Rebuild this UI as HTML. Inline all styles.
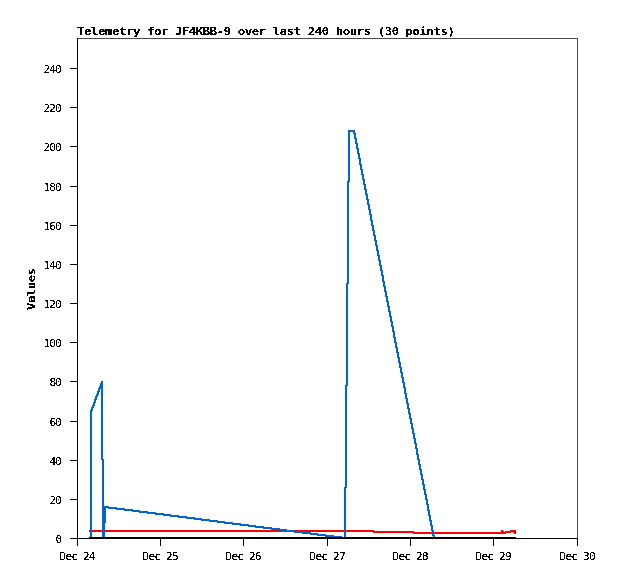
<!DOCTYPE html>
<html><head><meta charset="utf-8"><title>Telemetry for JF4KBB-9</title>
<style>
html,body{margin:0;padding:0;background:#fff;}
svg{display:block;}
.b{font-family:"DejaVu Sans Mono","Liberation Mono",monospace;font-weight:bold;font-size:11px;fill:#000;}
.s{font-family:"DejaVu Sans Mono","Liberation Mono",monospace;font-size:11px;fill:#000;}
</style></head><body>
<svg width="618" height="579" viewBox="0 0 618 579">
<defs>
<filter id="cr" x="0" y="0" width="100%" height="100%"><feComponentTransfer><feFuncA type="discrete" tableValues="0 0 0 0 1 1 1 1 1 1"/></feComponentTransfer></filter>
<filter id="cb" x="0" y="0" width="100%" height="100%"><feComponentTransfer><feFuncA type="discrete" tableValues="0 0 0 0 1 1 1 1 1 1"/></feComponentTransfer></filter>
</defs>
<rect width="618" height="579" fill="#fff"/>
<rect x="77" y="38" width="501" height="1" fill="#4a4a4a"/>
<rect x="577" y="38" width="1" height="501" fill="#4a4a4a"/>
<rect x="77" y="38" width="1" height="501" fill="#000"/>
<rect x="77" y="538" width="501" height="1" fill="#000"/>
<rect x="70" y="538" width="7" height="1" fill="#000"/>
<rect x="70" y="499" width="7" height="1" fill="#000"/>
<rect x="70" y="460" width="7" height="1" fill="#000"/>
<rect x="70" y="421" width="7" height="1" fill="#000"/>
<rect x="70" y="381" width="7" height="1" fill="#000"/>
<rect x="70" y="342" width="7" height="1" fill="#000"/>
<rect x="70" y="303" width="7" height="1" fill="#000"/>
<rect x="70" y="264" width="7" height="1" fill="#000"/>
<rect x="70" y="225" width="7" height="1" fill="#000"/>
<rect x="70" y="186" width="7" height="1" fill="#000"/>
<rect x="70" y="146" width="7" height="1" fill="#000"/>
<rect x="70" y="107" width="7" height="1" fill="#000"/>
<rect x="70" y="68" width="7" height="1" fill="#000"/>
<rect x="77" y="539" width="1" height="7" fill="#000"/>
<rect x="160" y="539" width="1" height="7" fill="#000"/>
<rect x="243" y="539" width="1" height="7" fill="#000"/>
<rect x="327" y="539" width="1" height="7" fill="#000"/>
<rect x="410" y="539" width="1" height="7" fill="#000"/>
<rect x="493" y="539" width="1" height="7" fill="#000"/>
<rect x="577" y="539" width="1" height="7" fill="#000"/>
<path fill="#f00" d="M89 530h285v1h-285zM501 530h2v1h-2zM510 530h6v1h-6zM89 531h325v1h-325zM501 531h3v1h-3zM505 531h11v1h-11zM373 532h138v1h-138zM513 532h3v1h-3zM413 533h93v1h-93zM514 533h2v1h-2z"/>
<path fill="#0066cc" d="M348 130h7v2h-7zM348 132h2v49h-2zM353 132h2v1h-2zM353 133h3v1h-3zM354 134h2v4h-2zM354 138h3v1h-3zM355 139h2v4h-2zM355 143h3v1h-3zM356 144h2v4h-2zM356 148h3v1h-3zM357 149h2v4h-2zM357 153h3v1h-3zM358 154h2v4h-2zM358 158h3v1h-3zM359 159h2v5h-2zM359 164h3v1h-3zM360 165h2v4h-2zM360 169h3v1h-3zM361 170h2v4h-2zM361 174h3v1h-3zM362 175h2v4h-2zM362 179h3v1h-3zM363 180h2v4h-2zM347 181h3v1h-3zM347 182h2v101h-2zM363 184h3v1h-3zM364 185h2v4h-2zM364 189h3v1h-3zM365 190h2v4h-2zM365 194h3v1h-3zM366 195h2v4h-2zM366 199h3v1h-3zM367 200h2v4h-2zM367 204h3v1h-3zM368 205h2v4h-2zM368 209h3v1h-3zM369 210h2v4h-2zM369 214h3v1h-3zM370 215h2v5h-2zM370 220h3v1h-3zM371 221h2v4h-2zM371 225h3v1h-3zM372 226h2v4h-2zM372 230h3v1h-3zM373 231h2v4h-2zM373 235h3v1h-3zM374 236h2v4h-2zM374 240h3v1h-3zM375 241h2v4h-2zM375 245h3v1h-3zM376 246h2v4h-2zM376 250h3v1h-3zM377 251h2v4h-2zM377 255h3v1h-3zM378 256h2v4h-2zM378 260h3v1h-3zM379 261h2v4h-2zM379 265h3v1h-3zM380 266h2v4h-2zM380 270h3v1h-3zM381 271h2v4h-2zM381 275h3v1h-3zM382 276h2v5h-2zM382 281h3v1h-3zM383 282h2v4h-2zM346 283h3v1h-3zM346 284h2v101h-2zM383 286h3v1h-3zM384 287h2v4h-2zM384 291h3v1h-3zM385 292h2v4h-2zM385 296h3v1h-3zM386 297h2v4h-2zM386 301h3v1h-3zM387 302h2v4h-2zM387 306h3v1h-3zM388 307h2v4h-2zM388 311h3v1h-3zM389 312h2v4h-2zM389 316h3v1h-3zM390 317h2v4h-2zM390 321h3v1h-3zM391 322h2v4h-2zM391 326h3v1h-3zM392 327h2v4h-2zM392 331h3v1h-3zM393 332h2v5h-2zM393 337h3v1h-3zM394 338h2v4h-2zM394 342h3v1h-3zM395 343h2v4h-2zM395 347h3v1h-3zM396 348h2v4h-2zM396 352h3v1h-3zM397 353h2v4h-2zM397 357h3v1h-3zM398 358h2v4h-2zM398 362h3v1h-3zM399 363h2v4h-2zM399 367h3v1h-3zM400 368h2v4h-2zM400 372h3v1h-3zM401 373h2v4h-2zM401 377h3v1h-3zM402 378h2v4h-2zM101 381h2v2h-2zM402 382h3v1h-3zM100 383h3v3h-3zM403 383h2v4h-2zM345 385h3v1h-3zM99 386h4v2h-4zM345 386h2v101h-2zM403 387h3v1h-3zM98 388h5v1h-5zM404 388h2v5h-2zM98 389h2v2h-2zM101 389h2v70h-2zM97 391h3v1h-3zM97 392h2v2h-2zM404 393h3v1h-3zM96 394h3v1h-3zM405 394h2v4h-2zM96 395h2v1h-2zM95 396h3v1h-3zM95 397h2v2h-2zM405 398h3v1h-3zM94 399h3v1h-3zM406 399h2v4h-2zM94 400h2v2h-2zM93 402h3v1h-3zM93 403h2v2h-2zM406 403h3v1h-3zM407 404h2v4h-2zM92 405h3v1h-3zM92 406h2v1h-2zM91 407h3v1h-3zM91 408h2v2h-2zM407 408h3v1h-3zM408 409h2v4h-2zM90 410h3v1h-3zM90 411h2v128h-2zM408 413h3v1h-3zM409 414h2v4h-2zM409 418h3v1h-3zM410 419h2v4h-2zM410 423h3v1h-3zM411 424h2v4h-2zM411 428h3v1h-3zM412 429h2v4h-2zM412 433h3v1h-3zM413 434h2v4h-2zM413 438h3v1h-3zM414 439h2v4h-2zM414 443h3v1h-3zM415 444h2v4h-2zM415 448h3v1h-3zM416 449h2v5h-2zM416 454h3v1h-3zM417 455h2v4h-2zM101 459h3v1h-3zM417 459h3v1h-3zM102 460h2v46h-2zM418 460h2v4h-2zM418 464h3v1h-3zM419 465h2v4h-2zM419 469h3v1h-3zM420 470h2v4h-2zM420 474h3v1h-3zM421 475h2v4h-2zM421 479h3v1h-3zM422 480h2v4h-2zM422 484h3v1h-3zM423 485h2v4h-2zM344 487h3v1h-3zM344 488h2v49h-2zM423 489h3v1h-3zM424 490h2v4h-2zM424 494h3v1h-3zM425 495h2v4h-2zM425 499h3v1h-3zM426 500h2v4h-2zM426 504h3v1h-3zM427 505h2v5h-2zM102 506h7v1h-7zM102 507h15v1h-15zM102 508h4v15h-4zM108 508h17v1h-17zM116 509h17v1h-17zM124 510h16v1h-16zM427 510h3v1h-3zM132 511h16v1h-16zM428 511h2v4h-2zM139 512h17v1h-17zM147 513h17v1h-17zM155 514h16v1h-16zM163 515h16v1h-16zM428 515h3v1h-3zM170 516h17v1h-17zM429 516h2v4h-2zM178 517h17v1h-17zM186 518h16v1h-16zM194 519h16v1h-16zM201 520h17v1h-17zM429 520h3v1h-3zM209 521h16v1h-16zM430 521h2v4h-2zM217 522h16v1h-16zM102 523h3v16h-3zM224 523h17v1h-17zM232 524h17v1h-17zM240 525h16v1h-16zM430 525h3v1h-3zM248 526h16v1h-16zM431 526h2v4h-2zM255 527h17v1h-17zM263 528h17v1h-17zM271 529h16v1h-16zM279 530h16v1h-16zM431 530h3v1h-3zM286 531h17v1h-17zM432 531h2v4h-2zM294 532h17v1h-17zM302 533h16v1h-16zM310 534h16v1h-16zM317 535h17v1h-17zM432 535h3v1h-3zM325 536h17v1h-17zM433 536h2v1h-2zM333 537h13v1h-13zM433 537h83v2h-83zM341 538h5v1h-5z"/>
<path fill="#000" d="M89 537h427v2h-427z"/>
<g class="b" filter="url(#cb)">
<text transform="translate(77,35) scale(1.12,1)" x="0" y="0" textLength="337.500" lengthAdjust="spacing">Telemetry for JF4KBB-9 over last 240 hours (30 points)</text>
<text transform="translate(35,310) rotate(-90) scale(1.12,1)" x="0" y="0" textLength="37.500" lengthAdjust="spacing">Values</text>
</g>
<g class="s" filter="url(#cr)">
<text transform="translate(55.5,543) scale(1.0,1)" textLength="6.000" lengthAdjust="spacing">0</text>
<text transform="translate(49.5,504) scale(1.0,1)" textLength="12.000" lengthAdjust="spacing">20</text>
<text transform="translate(49.5,465) scale(1.0,1)" textLength="12.000" lengthAdjust="spacing">40</text>
<text transform="translate(49.5,426) scale(1.0,1)" textLength="12.000" lengthAdjust="spacing">60</text>
<text transform="translate(49.5,386) scale(1.0,1)" textLength="12.000" lengthAdjust="spacing">80</text>
<text transform="translate(43.5,347) scale(1.0,1)" textLength="18.000" lengthAdjust="spacing">100</text>
<text transform="translate(43.5,308) scale(1.0,1)" textLength="18.000" lengthAdjust="spacing">120</text>
<text transform="translate(43.5,269) scale(1.0,1)" textLength="18.000" lengthAdjust="spacing">140</text>
<text transform="translate(43.5,230) scale(1.0,1)" textLength="18.000" lengthAdjust="spacing">160</text>
<text transform="translate(43.5,191) scale(1.0,1)" textLength="18.000" lengthAdjust="spacing">180</text>
<text transform="translate(43.5,151) scale(1.0,1)" textLength="18.000" lengthAdjust="spacing">200</text>
<text transform="translate(43.5,112) scale(1.0,1)" textLength="18.000" lengthAdjust="spacing">220</text>
<text transform="translate(43.5,73) scale(1.0,1)" textLength="18.000" lengthAdjust="spacing">240</text>
<text transform="translate(59.5,560) scale(1.0,1)" textLength="36.000" lengthAdjust="spacing">Dec 24</text>
<text transform="translate(142.5,560) scale(1.0,1)" textLength="36.000" lengthAdjust="spacing">Dec 25</text>
<text transform="translate(225.5,560) scale(1.0,1)" textLength="36.000" lengthAdjust="spacing">Dec 26</text>
<text transform="translate(309.5,560) scale(1.0,1)" textLength="36.000" lengthAdjust="spacing">Dec 27</text>
<text transform="translate(392.5,560) scale(1.0,1)" textLength="36.000" lengthAdjust="spacing">Dec 28</text>
<text transform="translate(475.5,560) scale(1.0,1)" textLength="36.000" lengthAdjust="spacing">Dec 29</text>
<text transform="translate(559.5,560) scale(1.0,1)" textLength="36.000" lengthAdjust="spacing">Dec 30</text>
</g>
</svg>
</body></html>
